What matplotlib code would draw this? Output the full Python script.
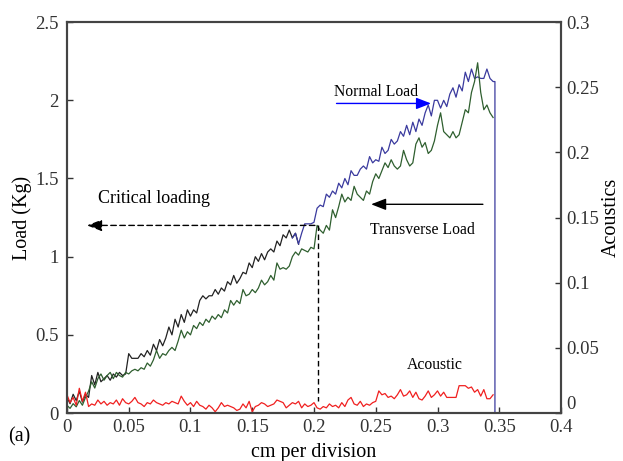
import numpy as np
import matplotlib
matplotlib.use("Agg")
import matplotlib.pyplot as plt

plt.rcParams['font.family'] = ['Liberation Serif', 'DejaVu Serif']
plt.rcParams['mathtext.fontset'] = 'stix'

step = 0.0025
normal_load = [
    0.10, 0.06, 0.12, 0.08, 0.14, 0.07, 0.12, 0.10, 0.24, 0.18,
    0.26, 0.20, 0.22, 0.24, 0.21, 0.25, 0.23, 0.26, 0.24, 0.25,
    0.38, 0.35, 0.35, 0.35, 0.38, 0.36, 0.40, 0.37, 0.44, 0.40,
    0.47, 0.43, 0.48, 0.55, 0.50, 0.60, 0.55, 0.63, 0.58, 0.66,
    0.62, 0.66, 0.64, 0.72, 0.75, 0.73, 0.75, 0.75, 0.79, 0.76,
    0.80, 0.78, 0.84, 0.82, 0.88, 0.83, 0.86, 0.90, 0.89, 0.96,
    0.93, 1.00, 0.97, 1.02, 0.98, 1.03, 1.05, 1.03, 1.10, 1.07,
    1.14, 1.12, 1.17, 1.12, 1.15, 1.08, 1.15, 1.21, 1.21, 1.21,
    1.22, 1.31, 1.33, 1.32, 1.40, 1.38, 1.42, 1.40, 1.47, 1.44,
    1.50, 1.46, 1.55, 1.52, 1.52, 1.56, 1.58, 1.56, 1.64, 1.60,
    1.62, 1.61, 1.70, 1.66, 1.68, 1.75, 1.72, 1.74, 1.80, 1.77,
    1.84, 1.78, 1.86, 1.80, 1.88, 1.84, 1.92, 1.97, 1.90, 2.00,
    2.00, 1.95, 2.00, 1.96, 2.04, 2.08, 2.02, 2.10, 2.06, 2.18,
    2.12, 2.20, 2.14, 2.15, 2.14, 2.14, 2.20, 2.14, 2.12,
]
transverse_load = [
    0.05, 0.03, 0.06, 0.04, 0.08, 0.05, 0.10, 0.14, 0.20, 0.16,
    0.22, 0.25, 0.21, 0.24, 0.26, 0.22, 0.26, 0.24, 0.23, 0.26,
    0.25, 0.27, 0.28, 0.27, 0.29, 0.28, 0.32, 0.30, 0.34, 0.40,
    0.35, 0.38, 0.37, 0.40, 0.42, 0.40, 0.46, 0.53, 0.48, 0.52,
    0.50, 0.56, 0.54, 0.58, 0.56, 0.60, 0.58, 0.62, 0.60, 0.63,
    0.61, 0.66, 0.64, 0.72, 0.69, 0.72, 0.70, 0.79, 0.75, 0.76,
    0.79, 0.77, 0.80, 0.85, 0.82, 0.84, 0.88, 0.85, 0.96, 0.92,
    0.93, 0.92, 0.94, 1.00, 1.03, 1.01, 1.05, 1.04, 1.03, 1.06,
    1.05, 1.20, 1.17, 1.15, 1.20, 1.17, 1.30, 1.25, 1.32, 1.40,
    1.35, 1.38, 1.36, 1.45, 1.40, 1.38, 1.36, 1.42, 1.40, 1.48,
    1.53, 1.50, 1.55, 1.60, 1.57, 1.62, 1.58, 1.56, 1.58, 1.68,
    1.62, 1.58, 1.60, 1.72, 1.76, 1.70, 1.73, 1.66, 1.68, 1.74,
    1.84, 1.92, 1.80, 1.78, 1.76, 1.80, 1.76, 1.78, 1.86, 1.94,
    1.92, 2.05, 2.12, 2.24, 2.05, 1.94, 1.97, 1.92, 1.89,
]
acoustic = [
    0.014, 0.008, 0.012, 0.006, 0.019, 0.009, 0.016, 0.005, 0.007, 0.006,
    0.010, 0.007, 0.009, 0.006, 0.008, 0.007, 0.010, 0.006, 0.011, 0.008,
    0.007, 0.009, 0.012, 0.008, 0.007, 0.005, 0.008, 0.007, 0.010, 0.008,
    0.007, 0.006, 0.008, 0.007, 0.009, 0.008, 0.007, 0.013, 0.009, 0.006,
    0.008, 0.005, 0.009, 0.006, 0.005, 0.003, 0.006, 0.004, 0.001, 0.004,
    0.008, 0.005, 0.006, 0.005, 0.004, 0.002, 0.003, 0.007, 0.004, 0.009,
    0.001, 0.005, 0.006, 0.008, 0.007, 0.005, 0.006, 0.007, 0.010, 0.009,
    0.008, 0.004, 0.006, 0.008, 0.007, 0.009, 0.004, 0.007, 0.005, 0.006,
    0.008, 0.004, 0.003, 0.005, 0.004, 0.007, 0.005, 0.006, 0.004, 0.008,
    0.005, 0.010, 0.012, 0.007, 0.006, 0.009, 0.005, 0.007, 0.006, 0.008,
    0.009, 0.017, 0.014, 0.015, 0.012, 0.013, 0.011, 0.014, 0.018, 0.013,
    0.014, 0.017, 0.012, 0.016, 0.011, 0.010, 0.013, 0.017, 0.012, 0.014,
    0.017, 0.013, 0.016, 0.012, 0.012, 0.012, 0.012, 0.021, 0.021, 0.021,
    0.019, 0.020, 0.016, 0.018, 0.013, 0.018, 0.011, 0.011, 0.014,
]
x = np.round(np.arange(len(normal_load)) * step, 4)
drop_x = 0.3465
drop_load = 0.0
critical_x = 0.203
critical_load = 1.2

xticks = [0, 0.05, 0.1, 0.15, 0.2, 0.25, 0.3, 0.35, 0.4]
xticklabels = ['0', '0.05', '0.1', '0.15', '0.2', '0.25', '0.3', '0.35', '0.4']
yticks = [0, 0.5, 1, 1.5, 2, 2.5]
yticklabels = ['0', '0.5', '1', '1.5', '2', '2.5']
y2ticks = [0, 0.05, 0.1, 0.15, 0.2, 0.25, 0.3]
y2ticklabels = ['0', '0.05', '0.1', '0.15', '0.2', '0.25', '0.3']

fig = plt.figure(figsize=(6.23, 4.61), dpi=100)
ax = fig.add_axes([0.1075, 0.104, 0.793, 0.848])
ax2 = ax.twinx()

black_c = '#222222'
blue_c = '#3a3a9e'
green_c = '#2f5f2f'
red_c = '#f02020'

nl = np.array(normal_load)
split = 75
# normal load: black first part, blue later part
ax.plot(x[:split + 1], nl[:split + 1], color=black_c, lw=0.9, zorder=3)
ax.plot(np.append(x[split - 2:], [drop_x, drop_x]),
        np.append(nl[split - 2:], [nl[-1], drop_load]),
        color=blue_c, lw=0.9, zorder=3)
ax.plot(x, transverse_load, color=green_c, lw=0.9, zorder=4)
ax2.plot(x, acoustic, color=red_c, lw=0.9)

ax.set_xlim(0, 0.4)
ax.set_ylim(0, 2.5)
ax2.set_ylim(0, 0.3)
ax.set_xticks(xticks)
ax.set_xticklabels(xticklabels)
ax.set_yticks(yticks)
ax.set_yticklabels(yticklabels)
ax2.set_yticks(y2ticks)
ax2.set_yticklabels(y2ticklabels)

for a in (ax, ax2):
    a.tick_params(direction='in', labelsize=13.5, length=4, width=1, colors='#333333')
    for s in a.spines.values():
        s.set_linewidth(1.5)
        s.set_color('#444444')
ax.tick_params(axis='x', pad=4)
ax.tick_params(axis='y', pad=6)
ax2.tick_params(axis='y', pad=4)
ax2.get_yticklabels()[0].set_verticalalignment('bottom')

ax.set_xlabel('cm per division', fontsize=14.5, labelpad=5)
ax.set_ylabel('Load (Kg)', fontsize=14.5, labelpad=2)
ax2.set_ylabel('Acoustics', fontsize=14.5, labelpad=2)

# annotations
ax.annotate('', xy=(0.014, critical_load), xytext=(critical_x, critical_load),
            arrowprops=dict(arrowstyle='-|>,head_length=0.9,head_width=0.35',
                            linestyle=(0, (4, 2.5)), color='black', lw=1.0))
ax.plot([critical_x, critical_x], [critical_load, 0.08], color='black', lw=1.0,
        linestyle=(0, (4, 2.5)), zorder=5)
ax.text(0.025, 1.375, 'Critical loading', fontsize=13, va='center', ha='left')

ax.annotate('', xy=(0.297, 1.98), xytext=(0.216, 1.98),
            arrowprops=dict(arrowstyle='-|>,head_length=0.9,head_width=0.35',
                            color='blue', lw=1.0))
ax.text(0.216, 2.0, 'Normal Load', fontsize=11.3, va='bottom', ha='left')

ax.annotate('', xy=(0.244, 1.335), xytext=(0.339, 1.335),
            arrowprops=dict(arrowstyle='-|>,head_length=0.9,head_width=0.35',
                            color='black', lw=1.0))
ax.text(0.2455, 1.17, 'Transverse Load', fontsize=11.3, va='center', ha='left')

ax.text(0.275, 0.305, 'Acoustic', fontsize=11.3, va='center', ha='left')

fig.text(0.013, 0.052, '(a)', fontsize=14.5, va='center', ha='left')

fig.savefig('out.png', dpi=100)
